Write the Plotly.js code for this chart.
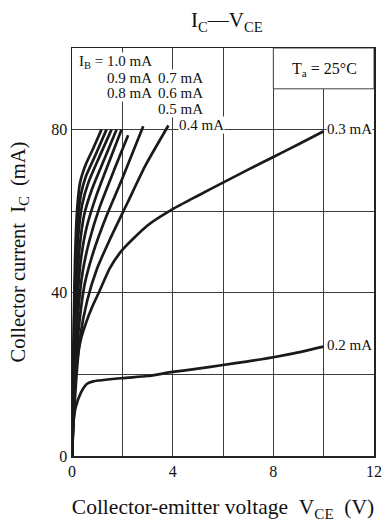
<!DOCTYPE html>
<html>
<head>
<meta charset="utf-8">
<script src="https://cdn.plot.ly/plotly-3.0.1.min.js"></script>
<style>html,body{margin:0;padding:0;background:#fff;}#chart{width:382px;height:524px;}</style>
</head>
<body>
<div id="chart"></div>
<script>
// Base current labels (mA)
const ibLabels = ['1.0', '0.9', '0.8', '0.7', '0.6', '0.5', '0.45', '0.4', '0.3', '0.2'];

// Collector-emitter voltage (V) and collector current (mA) per curve
const vce_10 = [0, 0.03, 0.07, 0.12, 0.2, 0.32, 0.55, 0.85, 1.17];
const ic_10  = [0, 15, 32, 48, 60, 67, 71.5, 75.5, 80];
const vce_09 = [0, 0.04, 0.08, 0.14, 0.22, 0.35, 0.55, 0.95, 1.37];
const ic_09  = [0, 15, 31, 46, 57, 64, 68.5, 74, 80];
const vce_08 = [0, 0.04, 0.09, 0.16, 0.25, 0.4, 0.65, 1.1, 1.57];
const ic_08  = [0, 14, 29, 43, 54, 61.5, 67, 73.5, 80];
const vce_07 = [0, 0.05, 0.1, 0.18, 0.3, 0.48, 0.8, 1.3, 1.77];
const ic_07  = [0, 13, 27, 40, 51, 59, 65.5, 73, 80];
const vce_06 = [0, 0.05, 0.11, 0.2, 0.35, 0.58, 0.95, 1.5, 1.97];
const ic_06  = [0, 12, 25, 37, 48, 56, 63.5, 72.5, 80];
const vce_05 = [0, 0.06, 0.13, 0.24, 0.42, 0.7, 1.1, 1.7, 2.23];
const ic_05  = [0, 11, 23, 35, 45, 53, 61, 70.5, 78.6];
const vce_045 = [0, 0.06, 0.15, 0.28, 0.5, 0.85, 1.35, 2.0, 2.83];
const ic_045  = [0, 10, 21, 32, 42, 50, 58.5, 68, 80.8];
const vce_04 = [0, 0.07, 0.17, 0.32, 0.6, 1.0, 1.5, 2.2, 2.9, 3.83];
const ic_04  = [0, 9, 19, 29, 38, 46, 53, 62, 71, 81];
const vce_03 = [0, 0.05, 0.12, 0.22, 0.35, 0.55, 0.8, 1.1, 1.5, 2.0, 3.0, 4.0, 5.0, 6.0, 7.0, 8.0, 9.0, 10.0];
const ic_03  = [0, 10, 18, 24, 28.5, 32.5, 36.5, 40.5, 46, 50.5, 56.5, 60.5, 63.8, 67, 70.2, 73.3, 76.4, 79.6];
const vce_02 = [0, 0.05, 0.15, 0.35, 0.6, 0.85, 2.0, 3.0, 4.0, 5.0, 6.0, 7.0, 8.0, 9.0, 10.0];
const ic_02  = [0, 8, 12, 15.5, 17.7, 18.3, 19.1, 19.6, 20.6, 21.4, 22.3, 23.2, 24.2, 25.4, 26.8];

// Axis ticks (labelled) and grid spacing
const xTickVals = [0, 4, 8, 12];
const xTickText = ['0', '4', '8', '12'];
const yTickVals = [0, 40, 80];
const yTickText = ['0', '40', '80'];
const xGridStep = 2;
const yGridStep = 20;

const seriesV = [vce_10, vce_09, vce_08, vce_07, vce_06, vce_05, vce_045, vce_04, vce_03, vce_02];
const seriesI = [ic_10, ic_09, ic_08, ic_07, ic_06, ic_05, ic_045, ic_04, ic_03, ic_02];

const SERIF = 'Liberation Serif, Times New Roman, serif';
const GRID = '#3d3d3d';
const traces = seriesV.map((v, k) => ({
  x: v, y: seriesI[k], type: 'scatter', mode: 'lines',
  name: ibLabels[k] + ' mA',
  line: {color: '#1a1a1a', width: 2.7, shape: 'spline', smoothing: 0.6},
  hoverinfo: 'skip', showlegend: false
}));

function lab(text, x, y) {
  return {text: text, x: x, y: y, xref: 'x', yref: 'y', xanchor: 'left', yanchor: 'middle',
    showarrow: false, bgcolor: '#ffffff', borderpad: 0,
    font: {family: SERIF, size: 15, color: '#111'}};
}

const annotations = [
  lab('I<sub>B</sub> = 1.0 mA', 0.24, 96.6),
  lab('0.9 mA', 1.35, 92.7),
  lab('0.7 mA', 3.36, 92.7),
  lab('0.8 mA', 1.35, 88.9),
  lab('0.6 mA', 3.36, 88.9),
  lab('0.5 mA', 3.36, 85.0),
  lab('0.4 mA', 4.22, 81.2),
  lab('0.3 mA', 10.1, 80.2),
  lab('0.2 mA', 10.1, 27.3),
  {text: 'T<sub>a</sub> = 25°C', x: 10.04, y: 94.8, xref: 'x', yref: 'y', xanchor: 'center', yanchor: 'middle',
   showarrow: false, font: {family: SERIF, size: 16, color: '#111'}}
];

const layout = {
  width: 382, height: 524,
  margin: {l: 72, r: 8, t: 48, b: 68},
  paper_bgcolor: '#ffffff', plot_bgcolor: '#ffffff',
  title: {text: 'I<sub>C</sub>—V<sub>CE</sub>', x: 0.594, xanchor: 'center', y: 0.962, yanchor: 'middle',
          font: {family: SERIF, size: 21, color: '#111'}},
  xaxis: {range: [0, 12], tickvals: xTickVals, ticktext: xTickText, showgrid: true,
          gridcolor: GRID, gridwidth: 1, zeroline: false, showline: true, mirror: true,
          minor: {dtick: xGridStep, tick0: 0, showgrid: true, gridcolor: GRID, gridwidth: 1, ticks: ''},
          linecolor: '#222', linewidth: 1.5, ticks: '',
          tickfont: {family: SERIF, size: 16, color: '#111'},
          title: {text: '\u00a0\u00a0Collector-emitter voltage\u00a0\u00a0V<sub>CE</sub>\u00a0\u00a0(V)', standoff: 20,
                  font: {family: SERIF, size: 21.5, color: '#111'}}},
  yaxis: {range: [0, 100], tickvals: yTickVals, ticktext: yTickText, showgrid: true,
          gridcolor: GRID, gridwidth: 1, zeroline: false, showline: true, mirror: true,
          minor: {dtick: yGridStep, tick0: 0, showgrid: true, gridcolor: GRID, gridwidth: 1, ticks: ''},
          linecolor: '#222', linewidth: 1.5, ticks: '',
          tickfont: {family: SERIF, size: 16, color: '#111'},
          title: {text: 'Collector current\u00a0\u00a0I<sub>C</sub>\u00a0\u00a0(mA)', standoff: 20,
                  font: {family: SERIF, size: 20.5, color: '#111'}}},
  shapes: [
    {type: 'rect', xref: 'x', yref: 'y', x0: 8, x1: 12, y0: 90, y1: 100,
     fillcolor: '#ffffff', line: {color: '#444', width: 1}, layer: 'above'}
  ],
  annotations: annotations
};

Plotly.newPlot('chart', traces, layout, {staticPlot: true, displayModeBar: false});
</script>
</body>
</html>
